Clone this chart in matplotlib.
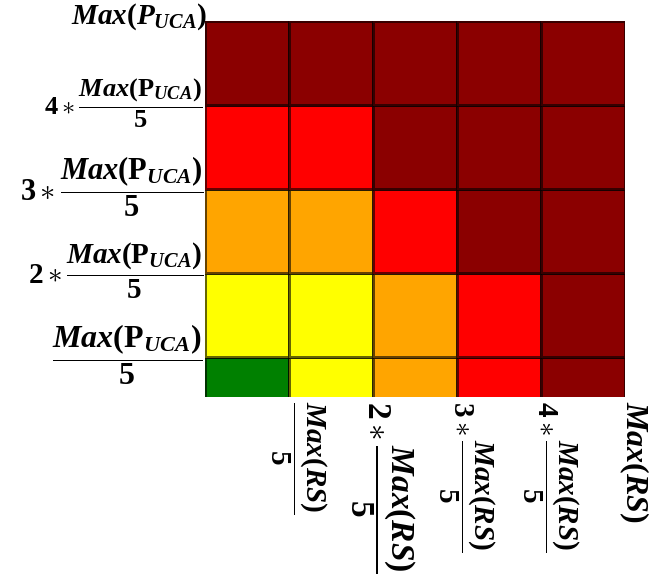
import matplotlib
matplotlib.use("Agg")
import matplotlib.pyplot as plt
import matplotlib.transforms as mtransforms
from matplotlib.colors import ListedColormap
import numpy as np

# risk levels per cell, rows from bottom (low P_UCA) to top, columns left (low RS) to right
risk_levels = [
    [0, 1, 2, 3, 4],
    [1, 1, 2, 3, 4],
    [2, 2, 3, 4, 4],
    [3, 3, 4, 4, 4],
    [4, 4, 4, 4, 4],
]
level_colors = ["#008000", "#FFFF00", "#FFA500", "#FF0000", "#8B0000"]

y_labels = [
    r"$\dfrac{Max(\mathrm{P}_{UCA})}{5}$",
    r"$2\ast\dfrac{Max(\mathrm{P}_{UCA})}{5}$",
    r"$3\ast\dfrac{Max(\mathrm{P}_{UCA})}{5}$",
    r"$4\ast\dfrac{Max(\mathrm{P}_{UCA})}{5}$",
    r"$Max(P_{UCA})$",
]
x_labels = [
    r"$\dfrac{Max(RS)}{5}$",
    r"$2\ast\dfrac{Max(RS)}{5}$",
    r"$3\ast\dfrac{Max(RS)}{5}$",
    r"$4\ast\dfrac{Max(RS)}{5}$",
    r"$Max(RS)$",
]

# per-label font sizes (pt)
Y_SIZES = [23, 21, 22, 19, 21]
X_SIZES = [21, 24, 21, 21, 23]

plt.rcParams.update({
    "mathtext.fontset": "custom",
    "mathtext.rm": "Liberation Serif:bold",
    "mathtext.it": "Liberation Serif:italic:bold",
    "mathtext.bf": "Liberation Serif:bold",
})

fig = plt.figure(figsize=(6.7, 5.79), dpi=100)
ax = fig.add_axes([205 / 670, 1 - 397 / 579, 420 / 670, 376 / 579])

n = len(risk_levels)
edges = np.arange(n + 1)
ax.pcolormesh(edges, edges, np.array(risk_levels), cmap=ListedColormap(level_colors),
              vmin=-0.5, vmax=len(level_colors) - 0.5,
              edgecolors=(0, 0, 0, 0.6), linewidth=0.9)
ax.set_xlim(0, n)
ax.set_ylim(n - 376 / 84, n)
ax.set_xticks([])
ax.set_yticks([])
for s in ax.spines.values():
    s.set_visible(False)

# y labels at row boundaries
ytrans = mtransforms.blended_transform_factory(ax.transAxes, ax.transData)
for i, (lab, fs) in enumerate(zip(y_labels, Y_SIZES)):
    dy = 4 / 100 if i == n - 1 else 2 / 100
    dx = 2 / 100 if i == n - 1 else -2 / 100
    tr = ytrans + mtransforms.ScaledTranslation(dx, dy, fig.dpi_scale_trans)
    ax.text(0, i + 1, lab, transform=tr, ha="right", va="center", fontsize=fs)

# x labels at column boundaries, rotated
xtrans = mtransforms.blended_transform_factory(ax.transData, ax.transAxes)
for i, (lab, fs) in enumerate(zip(x_labels, X_SIZES)):
    tr = xtrans + mtransforms.ScaledTranslation(9 / 100, -4 / 100, fig.dpi_scale_trans)
    ax.text(i + 1, 0, lab, transform=tr, ha="center", va="top",
            rotation=-90, fontsize=fs)

fig.savefig("out.png", dpi=100)
